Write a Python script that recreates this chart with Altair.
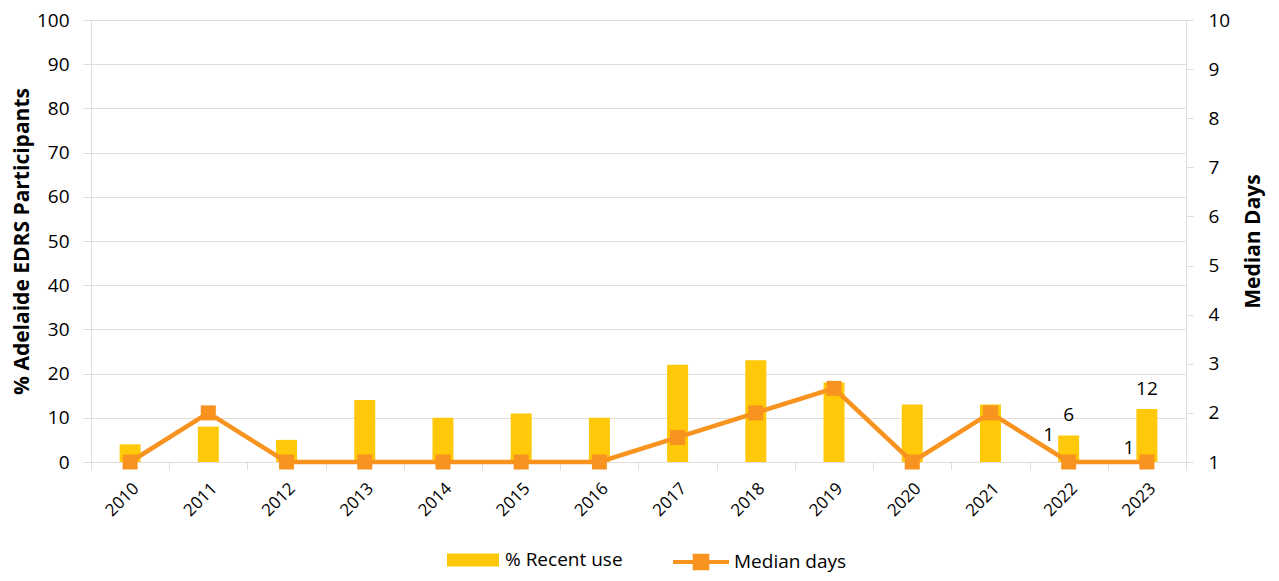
import altair as alt
import pandas as pd

years = ["2010", "2011", "2012", "2013", "2014", "2015", "2016",
         "2017", "2018", "2019", "2020", "2021", "2022", "2023"]
recent_use = [4, 8, 5, 14, 10, 11, 10, 22, 23, 18, 13, 13, 6, 12]
median_days = [1, 2, 1, 1, 1, 1, 1, 1.5, 2, 2.5, 1, 2, 1, 1]
bar_labels = ["", "", "", "", "", "", "", "", "", "", "", "", "6", "12"]
line_labels_a = ["", "", "", "", "", "", "", "", "", "", "", "", "1", ""]
line_labels_b = ["", "", "", "", "", "", "", "", "", "", "", "", "", "1"]

YELLOW = "#FFC90A"
ORANGE = "#F7931E"
GRID = "#E2DCDA"
FONT = "Open Sans"

df = pd.DataFrame({
    "year": years,
    "recent": recent_use,
    "median": median_days,
    "bar_label": bar_labels,
    "line_label_a": line_labels_a,
    "line_label_b": line_labels_b,
    "bar_series": "% Recent use",
    "line_series": "Median days",
})

x_enc = alt.X(
    "year:N", sort=years,
    scale=alt.Scale(paddingInner=0, paddingOuter=0),
    axis=alt.Axis(title=None, labelAngle=-45, tickBand="extent",
                  labelFontSize=17, labelColor="#000000", labelPadding=10,
                  domainColor=GRID, tickColor=GRID, tickSize=8, grid=False),
)

y_left = alt.Y(
    "recent:Q",
    scale=alt.Scale(domain=[0, 100], nice=False),
    axis=alt.Axis(title="% Adelaide EDRS Participants", values=list(range(0, 101, 10)),
                  grid=True, gridColor=GRID, domainColor=GRID, tickColor=GRID,
                  tickSize=8, labelFontSize=19, labelColor="#000000", labelPadding=14,
                  titleFontSize=21, titleFontWeight="bold", titleColor="#000000",
                  titlePadding=4),
)

y_right = alt.Y(
    "median:Q",
    scale=alt.Scale(domain=[1, 10], nice=False),
    axis=alt.Axis(title="Median Days", orient="right", values=list(range(1, 11)),
                  grid=False, domainColor=GRID, tickColor=GRID,
                  tickSize=7, labelFontSize=19, labelColor="#000000", labelPadding=15,
                  titleFontSize=21, titleFontWeight="bold", titleColor="#000000",
                  titleAngle=-90, titlePadding=34),
)

base = alt.Chart(df)

bars = base.mark_bar(size=21).encode(
    x=x_enc, y=y_left,
    color=alt.Color("bar_series:N",
                    scale=alt.Scale(domain=["% Recent use"], range=[YELLOW]),
                    legend=alt.Legend(title=None, orient="none", legendX=368, legendY=526,
                                      symbolType="M-2,-0.5H2V0.5H-2Z", symbolSize=676,
                                      labelFontSize=19, labelColor="#000000",
                                      labelOffset=18)),
)
bar_text = base.mark_text(dy=-20, fontSize=19, color="#000000").encode(
    x=x_enc, y=y_left, text="bar_label:N")

line = base.mark_line(strokeWidth=4.5).encode(
    x=x_enc, y=y_right,
    stroke=alt.Stroke("line_series:N",
                      scale=alt.Scale(domain=["Median days"], range=[ORANGE]),
                      legend=alt.Legend(title=None, orient="none", legendX=594, legendY=526,
                                        symbolType="M-2,0H2M-0.45,-0.45H0.45V0.45H-0.45Z",
                                        symbolSize=784, symbolStrokeWidth=4,
                                        symbolFillColor=ORANGE,
                                        labelFontSize=19, labelColor="#000000",
                                        labelOffset=17)),
)
points = base.mark_square(size=225, color=ORANGE, opacity=1).encode(x=x_enc, y=y_right)
line_text_a = base.mark_text(dx=-20, dy=-27, fontSize=19, color="#000000").encode(
    x=x_enc, y=y_right, text="line_label_a:N")
line_text_b = base.mark_text(dx=-18, dy=-14, fontSize=19, color="#000000").encode(
    x=x_enc, y=y_right, text="line_label_b:N")

chart = alt.layer(
    alt.layer(bars, bar_text),
    alt.layer(line, points, line_text_a, line_text_b),
).resolve_scale(y="independent").properties(
    width=1095, height=442,
    autosize=alt.AutoSizeParams(type="none"),
    padding={"left": 83, "top": 12, "right": 84, "bottom": 111},
).configure(font=FONT).configure_view(stroke=None)

chart.save("out.html", embed_options={"renderer": "svg", "actions": False})
